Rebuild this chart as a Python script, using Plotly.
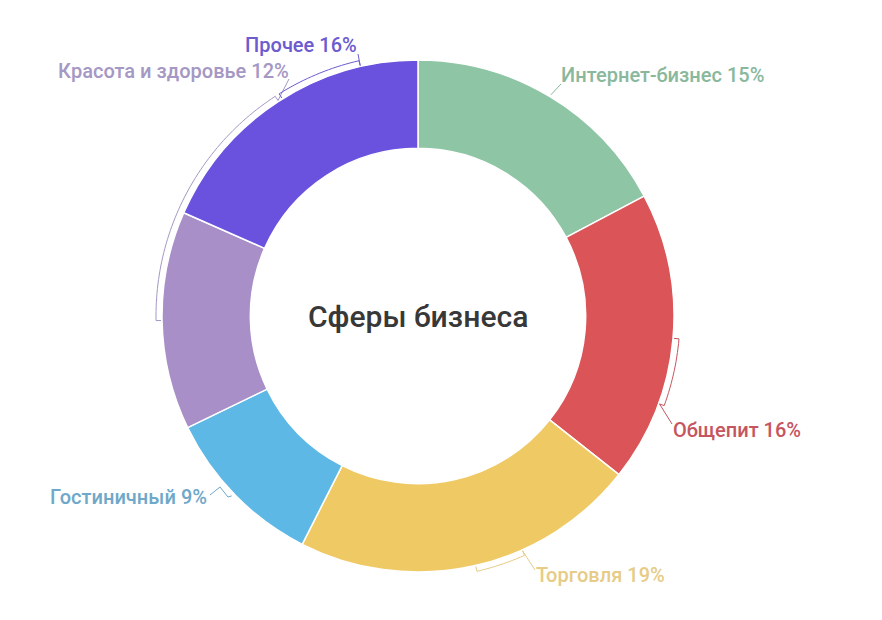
import math
import plotly.graph_objects as go

labels = ["Интернет-бизнес", "Общепит", "Торговля", "Гостиничный", "Красота и здоровье", "Прочее"]
values = [15, 16, 19, 9, 12, 16]
colors = ["#8ec5a5", "#db5457", "#efc964", "#5eb8e5", "#a88fc7", "#6b52de"]
text_colors = ["#8ab89d", "#c5565f", "#e6cc86", "#70a8c9", "#a598c4", "#6c5ccf"]

W, H = 882, 620
OFF = 8  # page body margin
CX, CY, R = 418, 316, 256


def px(x, y):
    return (x - OFF) / W, 1 - (y - OFF) / H


def pt(ang, r):
    a = math.radians(ang)
    return CX + r * math.sin(a), CY - r * math.cos(a)


def bracket(a0, a1, r=262, tick=5):
    # thin arc just outside the ring with small ticks at both ends
    pts = [pt(a0, r - tick)]
    n = max(4, int(abs(a1 - a0)))
    for i in range(n + 1):
        pts.append(pt(a0 + (a1 - a0) * i / n, r))
    pts.append(pt(a1, r - tick))
    return pts


def to_path(pts):
    s = ""
    for i, (x, y) in enumerate(pts):
        u, v = px(x, y)
        s += ("M" if i == 0 else "L") + f"{u:.5f},{v:.5f} "
    return s


x0, y1 = px(CX - R, CY - R)
x1, y0 = px(CX + R, CY + R)

fig = go.Figure()
fig.add_trace(go.Pie(
    labels=labels,
    values=values,
    marker=dict(colors=colors, line=dict(color="white", width=1.5)),
    hole=0.655,
    sort=False,
    direction="clockwise",
    rotation=0,
    textinfo="none",
    showlegend=False,
    domain=dict(x=[x0, x1], y=[y0, y1]),
))

# label placement (pixels) and anchors
label_pos = [(559, 75, "left"), (671, 430, "left"), (534, 575, "left"),
             (209, 497, "right"), (291, 71, "right"), (359, 45, "right")]

for lab, val, col, (x, y, anc) in zip(labels, values, text_colors, label_pos):
    u, v = px(x, y)
    fig.add_annotation(x=u, y=v, xref="paper", yref="paper", text=f"{lab} {val}%",
                       showarrow=False, xanchor=anc, yanchor="middle",
                       font=dict(family="Roboto Medium, Roboto", size=20, weight=500, color=col))

# leader lines
paths = [
    ([pt(31, 258), (561, 84)], text_colors[0]),
    (bracket(95, 110) + [(672, 424)], text_colors[1]),
    (bracket(167, 156) + [(535, 570)], text_colors[2]),
    ([pt(226, 259), (228, 497), (220, 487), (210, 495)], text_colors[3]),
    (bracket(269, 327) + [(289, 79)], text_colors[4]),
    (bracket(328, 347) + [(358, 54)], text_colors[5]),
]
for p, col in paths:
    fig.add_shape(type="path", path=to_path(p), xref="paper", yref="paper",
                  line=dict(color=col, width=1))

cu, cv = px(CX, CY)
fig.add_annotation(x=cu, y=cv, xref="paper", yref="paper", text="Сферы бизнеса",
                   showarrow=False,
                   font=dict(family="Roboto Medium, Roboto", size=30, weight=500, color="#383838"))

fig.update_layout(width=W, height=H, margin=dict(l=0, r=0, t=0, b=0),
                  paper_bgcolor="white", plot_bgcolor="white")

fig.write_html("out.html")
